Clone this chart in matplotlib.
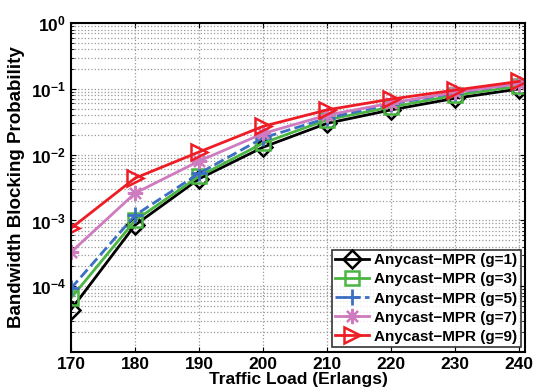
import matplotlib.pyplot as plt
import numpy as np

plt.rcParams['font.family'] = ['Liberation Sans', 'DejaVu Sans']
plt.rcParams['font.weight'] = 'bold'
plt.rcParams['mathtext.default'] = 'bf'

load = [170, 180, 190, 200, 210, 220, 230, 240]
g1 = [4.4e-5, 8.5e-4, 4.3e-3, 0.013, 0.030, 0.048, 0.072, 0.10]
g3 = [6.6e-5, 1.0e-3, 4.7e-3, 0.015, 0.034, 0.053, 0.080, 0.11]
g5 = [9.3e-5, 1.2e-3, 5.2e-3, 0.018, 0.036, 0.059, 0.087, 0.12]
g7 = [3.3e-4, 2.6e-3, 8.0e-3, 0.021, 0.040, 0.061, 0.089, 0.12]
g9 = [7.6e-4, 4.4e-3, 1.1e-2, 0.027, 0.048, 0.070, 0.096, 0.13]
labels = ['Anycast\u2212MPR (g=1)', 'Anycast\u2212MPR (g=3)', 'Anycast\u2212MPR (g=5)',
          'Anycast\u2212MPR (g=7)', 'Anycast\u2212MPR (g=9)']

fig = plt.figure(figsize=(5.38, 3.92), dpi=100)
ax = fig.add_axes([0.132, 0.102, 0.844, 0.839])

ax.plot(load, g1, '-', color='black', lw=2, marker='D', ms=9, mfc='none', mew=1.8, label=labels[0])
ax.plot(load, g3, '-', color='#4bb543', lw=2, marker='s', ms=10, mfc='none', mew=1.8, label=labels[1])
ax.plot(load, g5, '--', color='#3b6fc2', lw=2, marker='+', ms=12, mew=2, label=labels[2])
ax.plot(load, g7, '-', color='#cf7bc0', lw=2, marker=(8, 2, 0), ms=11, mew=1.6, label=labels[3])
ax.plot(load, g9, '-', color='#ee1c25', lw=2, marker='>', ms=12, mfc='none', mew=1.8, label=labels[4])

ax.set_yscale('log')
ax.set_xlim(170, 240.9)
ax.set_ylim(1e-5, 1)
ax.set_xticks(load)
ax.set_yticks([1e-4, 1e-3, 1e-2, 1e-1, 1e0])
ax.grid(True, which='major', ls=':', color='#999999', lw=0.9)
ax.grid(True, which='minor', axis='y', ls=':', color='#999999', lw=0.9)
ax.tick_params(which='both', direction='in', top=True, right=True, labelsize=12.5)
for s in ax.spines.values():
    s.set_linewidth(1.5)

ax.set_xlabel('Traffic Load (Erlangs)', fontsize=12.5, fontweight='bold', labelpad=0)
ax.set_ylabel('Bandwidth Blocking Probability', fontsize=13.5, fontweight='bold', labelpad=4)

leg = ax.legend(loc='lower right', fontsize=11, frameon=True, fancybox=False,
                edgecolor='black', handlelength=2.2, borderaxespad=0.3,
                labelspacing=0.33, handletextpad=0.3, borderpad=0.25)
leg.get_frame().set_linewidth(1.2)

fig.savefig('out.png', dpi=100)
